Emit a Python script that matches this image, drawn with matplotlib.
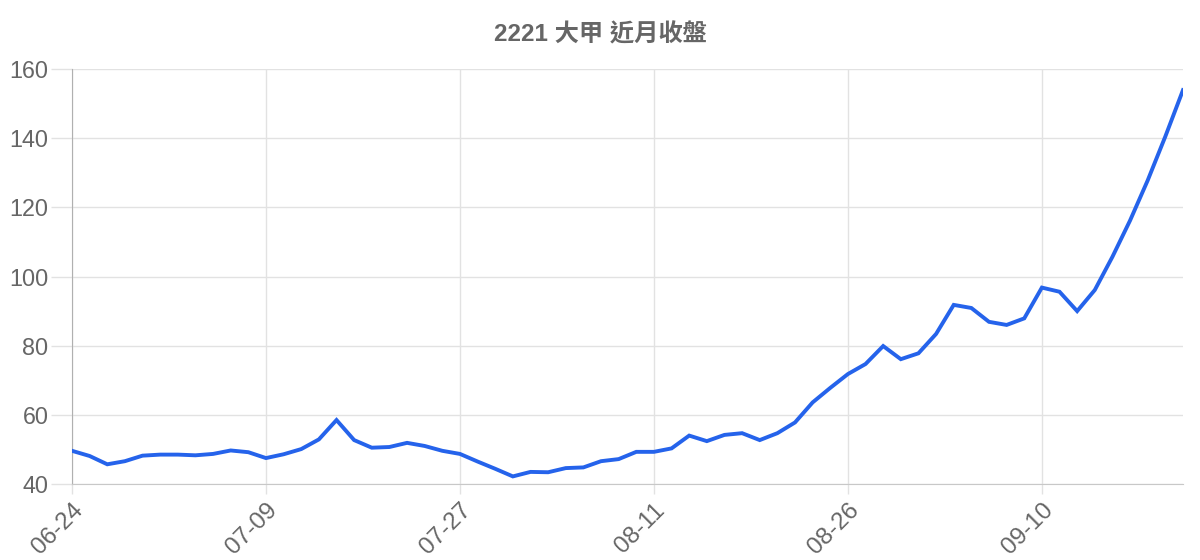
import matplotlib
matplotlib.use('Agg')
import matplotlib.pyplot as plt

plt.rcParams['font.family'] = ['Liberation Sans', 'Noto Sans CJK TC', 'DejaVu Sans']

TITLE = '2221 大甲 近月收盤'

# closing prices, one per trading day from 06-24
close = [49.6, 48.1, 45.7, 46.6, 48.2, 48.5, 48.5, 48.3, 48.7, 49.7,
         49.2, 47.5, 48.6, 50.1, 52.9, 58.5, 52.7, 50.5, 50.7, 51.9,
         51.0, 49.6, 48.7, 46.5, 44.4, 42.2, 43.5, 43.4, 44.6, 44.8,
         46.6, 47.2, 49.3, 49.3, 50.3, 54.0, 52.4, 54.2, 54.7, 52.7,
         54.7, 57.8, 63.6, 67.8, 71.8, 74.7, 79.9, 76.1, 77.8, 83.4,
         91.8, 90.9, 86.9, 86.0, 87.9, 96.8, 95.6, 90.0, 96.1, 105.7,
         116.2, 127.8, 140.5, 153.9]

tick_idx = [0, 11, 22, 33, 44, 55]
tick_labels = ['06-24', '07-09', '07-27', '08-11', '08-26', '09-10']
y_ticks = [40, 60, 80, 100, 120, 140, 160]

fig = plt.figure(figsize=(12, 5.6), dpi=100)
ax = fig.add_axes([0.06, 0.1357, 0.9258, 0.741])

ax.plot(range(len(close)), close, color='#2563eb', linewidth=2.8,
        solid_joinstyle='miter', zorder=3)

ax.set_xlim(0, len(close) - 1)
ax.set_ylim(40, 160)
ax.set_xticks(tick_idx)
ax.set_xticklabels(tick_labels, rotation=45, ha='right', va='top',
                   rotation_mode='anchor')
ax.set_yticks(y_ticks)

ax.grid(True, color='#e2e2e2', linewidth=1)
ax.set_axisbelow(True)
ax.tick_params(axis='y', length=15, width=1, color='#e2e2e2', pad=2,
               labelsize=16.8, labelcolor='#666666')
ax.tick_params(axis='x', length=7, width=1, color='#e2e2e2', pad=4,
               labelsize=17.5, labelcolor='#666666')

for s in ['top', 'right']:
    ax.spines[s].set_visible(False)
ax.spines['left'].set_color('#b0b0b0')
ax.spines['bottom'].set_color('#c8c8c8')

fig.text(0.5, 0.937, TITLE, ha='center', va='center', fontsize=17.5,
         fontweight='bold', color='#666666')

fig.savefig('out.png', dpi=100)
